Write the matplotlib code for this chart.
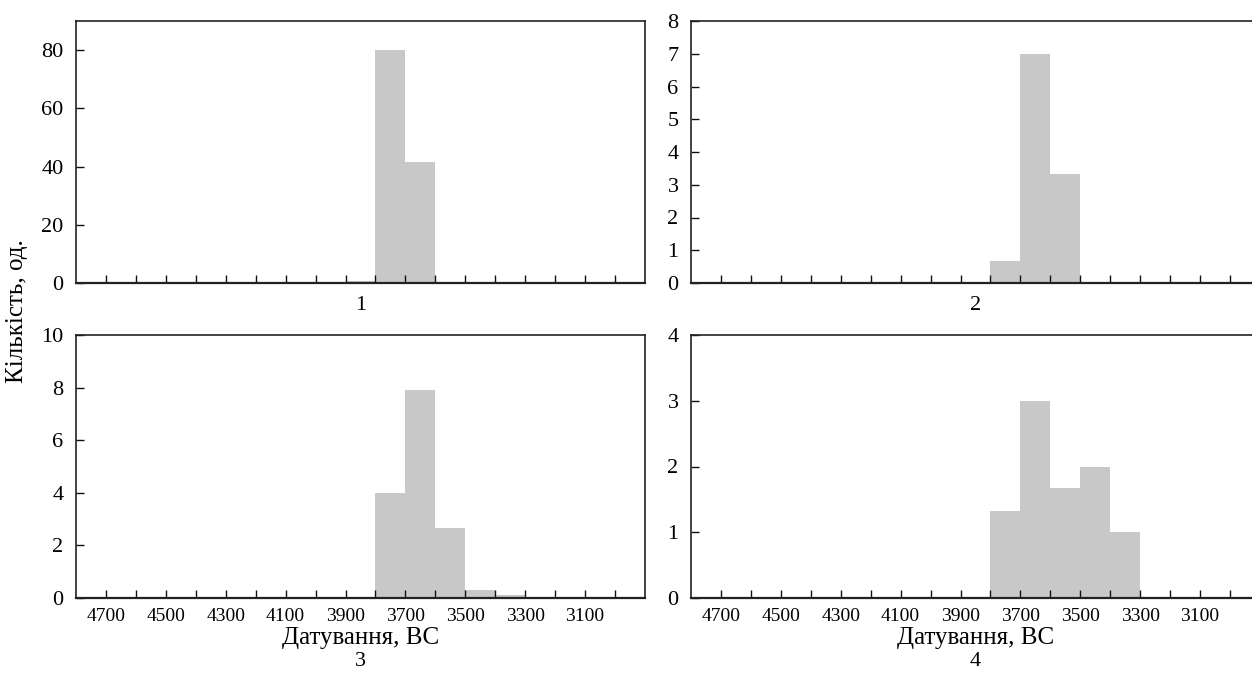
import matplotlib
matplotlib.use("Agg")
import numpy as np
import matplotlib.pyplot as plt

plt.rcParams["font.family"] = ["Liberation Serif", "DejaVu Serif"]

# ── Data: 100-year bins, value = older edge of the bin (BC) ──────────────────
bins_1 = [3900, 3800, 3700]
counts_1 = [0.6, 80, 41.5]

bins_2 = [3800, 3700, 3600]
counts_2 = [0.67, 7.0, 3.33]

bins_3 = [3800, 3700, 3600, 3500, 3400]
counts_3 = [4.0, 7.9, 2.67, 0.3, 0.13]

bins_4 = [3800, 3700, 3600, 3500, 3400]
counts_4 = [1.33, 3.0, 1.67, 2.0, 1.0]

panel_labels = ["1", "2", "3", "4"]
ylims = [90, 8, 10, 4]
yticks = [[0, 20, 40, 60, 80], list(range(0, 9)), [0, 2, 4, 6, 8, 10], [0, 1, 2, 3, 4]]
major_xticks = [4700, 4500, 4300, 4100, 3900, 3700, 3500, 3300, 3100]
minor_xticks = list(range(4600, 2999, -200))

xlabel = "Датування, ВС"
ylabel = "Кількість, од."
bar_color = "#c8c8c8"

W, H = 1252, 675
fig = plt.figure(figsize=(W / 100, H / 100), dpi=100)


def ax_at(left, top, right, bottom):
    return fig.add_axes([left / W, 1 - bottom / H, (right - left) / W, (bottom - top) / H])


axes = [
    ax_at(76, 21, 645, 283),
    ax_at(691, 21, 1260, 283),
    ax_at(76, 335, 645, 598),
    ax_at(691, 335, 1260, 598),
]

all_bins = [bins_1, bins_2, bins_3, bins_4]
all_counts = [counts_1, counts_2, counts_3, counts_4]

for i, ax in enumerate(axes):
    centers = np.array(all_bins[i]) - 50
    ax.bar(centers, all_counts[i], width=100, color=bar_color, edgecolor="none", zorder=1)
    ax.set_xlim(4800, 2900)
    ax.set_ylim(0, ylims[i])
    ax.set_yticks(yticks[i])
    ax.set_xticks(major_xticks)
    ax.set_xticks(minor_xticks, minor=True)
    ax.tick_params(axis="both", which="both", direction="in", length=6, width=1,
                   top=False, right=False, color="#111111")
    ax.tick_params(axis="y", pad=9, labelsize=16)
    ax.tick_params(axis="x", pad=7, labelsize=14)
    for s in ax.spines.values():
        s.set_linewidth(1.2)
        s.set_color("#222222")
    ax.spines["bottom"].set_linewidth(1.6)
    ax.spines["bottom"].set_zorder(3)

    if i < 2:
        ax.set_xticklabels([])
        ax.text(0.5, -0.084, panel_labels[i], transform=ax.transAxes,
                ha="center", va="center", fontsize=16)
    else:
        ax.text(0.5, -0.152, xlabel, transform=ax.transAxes,
                ha="center", va="center", fontsize=18)
        ax.text(0.5, -0.240, panel_labels[i], transform=ax.transAxes,
                ha="center", va="center", fontsize=16)

fig.text(17 / W, 1 - 311 / H, ylabel, rotation=90, ha="center", va="center", fontsize=18)

fig.savefig("out.png", dpi=100)
